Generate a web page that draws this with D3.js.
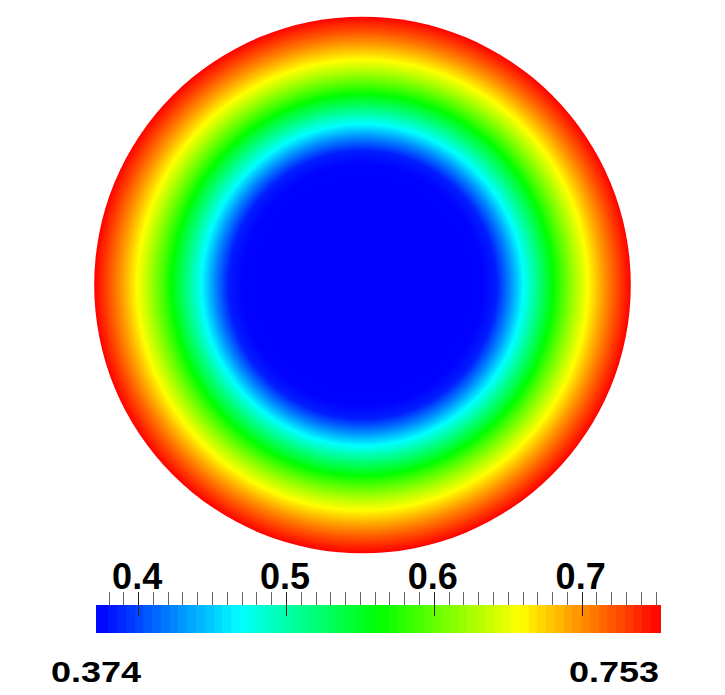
<!DOCTYPE html>
<html>
<head>
<meta charset="UTF-8">
<style>
  body { margin: 0; background: #fff; }
  svg { display: block; }
  .lbl { font-family: "Liberation Sans", Arial, sans-serif; font-weight: bold; font-size: 36px; fill: #000; }
</style>
<script src="https://d3js.org/d3.v7.min.js"></script>
</head>
<body>
<svg width="725" height="695"></svg>
<script>
// radial profile of the field (radius as fraction of disk radius -> value)
var radii  = [0, 0.40, 0.45, 0.50, 0.55, 0.60, 0.65, 0.70, 0.75, 0.80, 0.85, 0.90, 0.95, 1.00];
var values = [0.374, 0.374, 0.375, 0.385, 0.425, 0.469, 0.512, 0.554, 0.595, 0.632, 0.665, 0.697, 0.726, 0.753];

var range = [0.374, 0.753];
var majorTicks = [0.4, 0.5, 0.6, 0.7];
var rangeLabels = ["0.374", "0.753"];
var nBands = 64;

var svg = d3.select("svg");

// rainbow blue -> red (hsv hue 240 -> 0)
var color = d3.scaleSequential(function(t) { return d3.hsl(240 * (1 - t), 1, 0.5) + ""; })
    .domain(range).clamp(true);

var profile = d3.scaleLinear().domain(radii).range(values);

// disk
var cx = 362.5, cy = 285, R = 268.3;
var grad = svg.append("defs").append("radialGradient")
    .attr("id", "field")
    .attr("cx", 0.5).attr("cy", 0.5).attr("r", 0.5);
grad.selectAll("stop")
    .data(d3.range(0, 1.0001, 0.01))
    .enter().append("stop")
    .attr("offset", function(d) { return d; })
    .attr("stop-color", function(d) { return color(profile(d)); });

svg.append("circle")
    .attr("cx", cx).attr("cy", cy).attr("r", R)
    .attr("fill", "url(#field)");

// colour bar
var x = d3.scaleLinear().domain(range).range([99.7, 660]);
var barLeft = 96, barTop = 605, barH = 28;

var bands = d3.range(nBands).map(function(i) {
    return {
        lo: range[0] + (range[1] - range[0]) * i / nBands,
        hi: range[0] + (range[1] - range[0]) * (i + 1) / nBands
    };
});
svg.append("g").selectAll("rect")
    .data(bands)
    .enter().append("rect")
    .attr("x", function(d, i) { return i === 0 ? barLeft : x(d.lo); })
    .attr("y", barTop)
    .attr("width", function(d, i) { return (i === 0 ? x(d.hi) - barLeft : x(d.hi) - x(d.lo)) + 0.5; })
    .attr("height", barH)
    .attr("fill", function(d) { return color((d.lo + d.hi) / 2); })
    .attr("shape-rendering", "crispEdges");

// minor ticks every 0.01
var minor = d3.range(38, 76).map(function(k) { return k / 100; });
svg.append("g").selectAll("line")
    .data(minor)
    .enter().append("line")
    .attr("x1", function(d) { return Math.round(x(d)) + 0.5; })
    .attr("x2", function(d) { return Math.round(x(d)) + 0.5; })
    .attr("y1", 592)
    .attr("y2", function(d) { return majorTicks.some(function(m) { return Math.abs(m - d) < 1e-6; }) ? 616 : barTop; })
    .attr("stroke", function(d) { return majorTicks.some(function(m) { return Math.abs(m - d) < 1e-6; }) ? "#222" : "#666"; })
    .attr("stroke-width", 1);

// tick labels
svg.append("g").selectAll("text")
    .data(majorTicks)
    .enter().append("text")
    .attr("class", "lbl")
    .attr("x", function(d) { return x(d) - 1; })
    .attr("y", 589)
    .attr("text-anchor", "middle")
    .text(function(d) { return d3.format(".1f")(d); });

// range labels (slightly squashed vertically like the original)
svg.append("text")
    .attr("class", "lbl")
    .attr("text-anchor", "middle")
    .attr("transform", "translate(" + barLeft + ",682) scale(1,0.82)")
    .text(rangeLabels[0]);
svg.append("text")
    .attr("class", "lbl")
    .attr("text-anchor", "end")
    .attr("transform", "translate(659,682) scale(1,0.82)")
    .text(rangeLabels[1]);
</script>
</body>
</html>
